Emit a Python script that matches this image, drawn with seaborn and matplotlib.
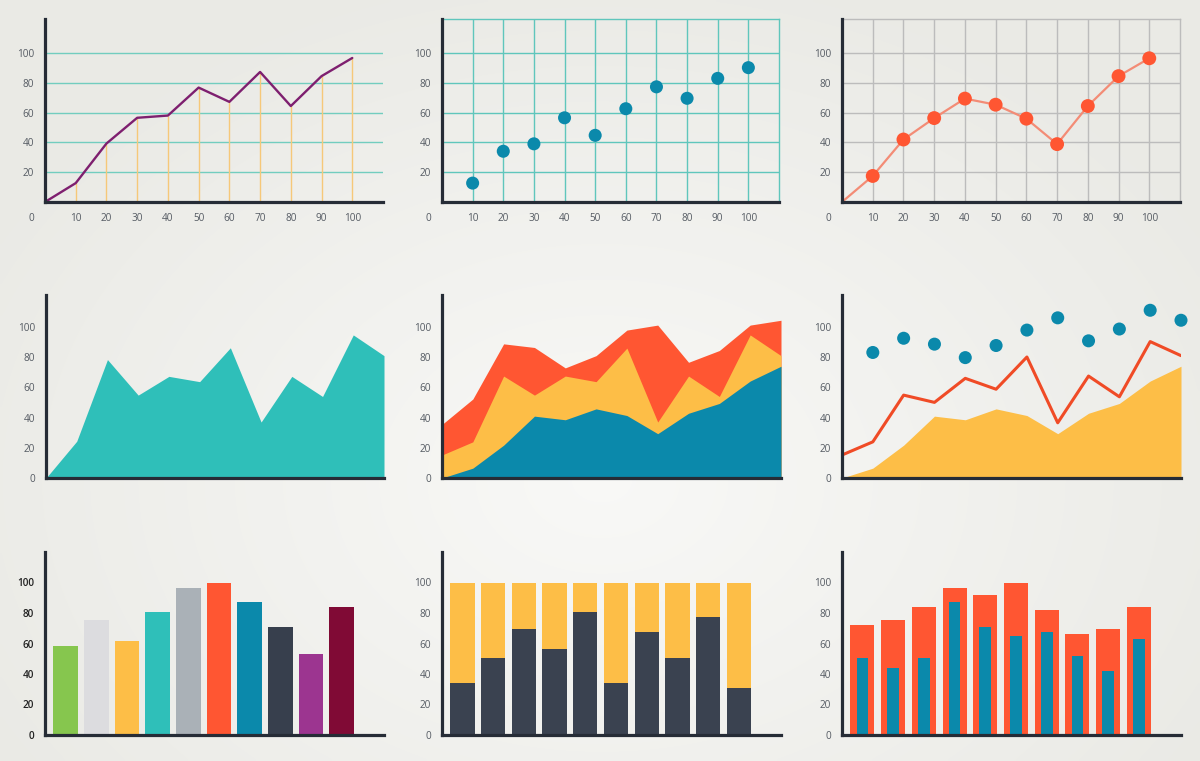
import numpy as np
import pandas as pd
import matplotlib
matplotlib.use("Agg")
import matplotlib.pyplot as plt
import matplotlib.transforms as mtransforms
import seaborn as sns

# ---------------- data ----------------
x_ticks = [10, 20, 30, 40, 50, 60, 70, 80, 90, 100]

line1_x = [0, 10, 20, 30, 40, 50, 60, 70, 80, 90, 100]
line1_y = [0, 12.7, 39.3, 56.6, 58.1, 76.9, 67.3, 87.4, 64.5, 84.6, 96.8]

scatter_x = [10, 20, 30, 40, 50, 60, 70, 80, 90, 100]
scatter_y = [12.7, 34.1, 39.1, 56.6, 44.8, 62.7, 77.4, 69.7, 83.1, 90.3]

dotline_x = [0, 10, 20, 30, 40, 50, 60, 70, 80, 90, 100]
dotline_y = [0, 17.5, 42.0, 56.4, 69.5, 65.4, 56.0, 38.9, 64.5, 84.6, 96.6]

area_x = [0, 10, 20, 30, 40, 50, 60, 70, 80, 90, 100, 110]
area_y = [0, 24.3, 78.3, 54.8, 67.2, 63.7, 86.1, 37.0, 67.2, 53.9, 94.6, 80.9]

stack_blue = [0, 6.5, 21.7, 40.9, 38.5, 45.7, 41.3, 29.3, 42.8, 49.3, 64.1, 73.9]
stack_yellow_top = [15.2, 23.9, 67.4, 54.8, 67.4, 63.7, 85.9, 37.0, 67.4, 53.9, 94.6, 80.9]
stack_orange_top = [35.4, 52.2, 88.7, 86.3, 72.8, 80.9, 97.8, 101.1, 76.5, 84.3, 101.1, 104.3]

combo_area = [0, 6.5, 21.7, 40.9, 38.5, 45.7, 41.3, 29.3, 42.8, 49.3, 64.1, 73.9]
combo_line = [15.2, 23.9, 54.8, 50.0, 65.9, 58.7, 80.0, 36.5, 67.4, 53.7, 90.2, 80.9]
combo_dot_x = [10, 20, 30, 40, 50, 60, 70, 80, 90, 100, 110]
combo_dots = [83.0, 92.4, 88.5, 79.6, 87.6, 97.8, 105.9, 90.7, 98.5, 110.9, 104.3]

bar_cats = ["A", "B", "C", "D", "E", "F", "G", "H", "I", "J"]
bar_values = [58.3, 75.7, 61.5, 80.7, 96.5, 100, 87.2, 70.9, 53.3, 83.9]

share_total = [100, 100, 100, 100, 100, 100, 100, 100, 100, 100]
share_dark = [33.9, 50.2, 69.3, 56.5, 80.7, 33.9, 67.8, 50.2, 77.4, 30.7]

outer_values = [72.4, 75.7, 83.7, 96.5, 91.7, 100, 82.2, 66.1, 69.3, 83.7]
inner_values = [50.4, 43.7, 50.4, 87.2, 70.9, 64.8, 67.8, 52.0, 42.0, 63.0]

y_ticks_top = [20, 40, 60, 80, 100]
y_ticks_all = [0, 20, 40, 60, 80, 100]

# ---------------- style ----------------
AXIS = "#262c36"
TICK = "#555b63"
PURPLE = "#7e1f6f"
TEAL_GRID = "#72cdbf"
YELLOW_LINE = "#f6c879"
BLUE = "#0b89ab"
ORANGE = "#ff5632"
SALMON = "#f38c76"
GRAY_GRID = "#bcbcbc"
TEAL = "#2fbfb9"
YELLOW = "#fdbe47"
RED_LINE = "#f04b26"
DARK = "#3a4250"
bar_palette = ["#86c64e", "#dcdcdf", "#fdbe47", "#2fbfb9", "#aab1b7",
               "#ff5632", "#0b89ab", "#373f4d", "#9c3590", "#800a35"]
FS = 7.2

sns.set_style("white")
plt.rcParams["font.family"] = ["Open Sans", "DejaVu Sans"]

W, H = 1200, 761
fig = plt.figure(figsize=(W / 100, H / 100), dpi=100)

# background radial gradient
bg = fig.add_axes([0, 0, 1, 1], zorder=-10)
yy, xx = np.mgrid[0:H:4, 0:W:4]
r = np.sqrt(((xx - 600) / 700.0) ** 2 + ((yy - 480) / 520.0) ** 2)
r = np.clip(r, 0, 1)
c_center = np.array([0.975, 0.975, 0.968])
c_edge = np.array([0.918, 0.918, 0.900])
img = c_center[None, None, :] * (1 - r[..., None]) + c_edge[None, None, :] * r[..., None]
bg.imshow(img, extent=[0, W, H, 0], aspect="auto", interpolation="bilinear")
bg.set_axis_off()


def make_ax(L, R, B, T):
    ax = fig.add_axes([L / W, 1 - B / H, (R - L) / W, (B - T) / H])
    ax.set_facecolor("none")
    for s in ["top", "right"]:
        ax.spines[s].set_visible(False)
    for s in ["left", "bottom"]:
        ax.spines[s].set_color(AXIS)
        ax.spines[s].set_linewidth(2.3)
        ax.spines[s].set_zorder(6)
    ax.tick_params(length=0, pad=8, labelsize=FS, labelcolor=TICK)
    ax.set_xlabel("")
    ax.set_ylabel("")
    return ax


def origin_zero(ax):
    tr = mtransforms.offset_copy(ax.transData, fig=fig, y=-8, units="points")
    ax.text(-4.3, 0, "0", ha="center", va="top", fontsize=FS, color=TICK, transform=tr)


# ---------------- Row 1 ----------------
# Panel 1: line with drop lines
ax1 = make_ax(45, 383, 202, 19)
for v in y_ticks_top:
    ax1.axhline(v, color=TEAL_GRID, lw=1.0, zorder=1)
ax1.vlines(line1_x[1:], 0, line1_y[1:], color=YELLOW_LINE, lw=1.0, zorder=2)
sns.lineplot(x=line1_x, y=line1_y, ax=ax1, color=PURPLE, lw=1.7, zorder=4)
ax1.set_xlim(0, 110)
ax1.set_ylim(0, 123)
ax1.set_xticks(x_ticks)
ax1.set_yticks(y_ticks_top)
origin_zero(ax1)

# Panel 2: scatter on grid
ax2 = make_ax(442, 779, 202, 19)
sns.scatterplot(x=scatter_x, y=scatter_y, ax=ax2, color=BLUE, s=88,
                edgecolor="none", zorder=4)
ax2.set_xlim(0, 110)
ax2.set_ylim(0, 123)
ax2.set_xticks(x_ticks)
ax2.set_yticks(y_ticks_top)
ax2.set_axisbelow(True)
ax2.grid(True, color="#5fc6bc", lw=1.0)
for s in ["top", "right"]:
    ax2.spines[s].set_visible(True)
    ax2.spines[s].set_color("#5fc6bc")
    ax2.spines[s].set_linewidth(1.0)
origin_zero(ax2)

# Panel 3: line with markers on gray grid
ax3 = make_ax(842, 1180, 202, 19)
sns.lineplot(x=dotline_x, y=dotline_y, ax=ax3, color=SALMON, lw=1.6, zorder=3)
sns.scatterplot(x=dotline_x[1:], y=dotline_y[1:], ax=ax3, color=ORANGE, s=100,
                edgecolor="none", zorder=4)
ax3.set_xlim(0, 110)
ax3.set_ylim(0, 123)
ax3.set_xticks(x_ticks)
ax3.set_yticks(y_ticks_top)
ax3.set_axisbelow(True)
ax3.grid(True, color=GRAY_GRID, lw=1.0)
for s in ["top", "right"]:
    ax3.spines[s].set_visible(True)
    ax3.spines[s].set_color(GRAY_GRID)
    ax3.spines[s].set_linewidth(1.0)
origin_zero(ax3)

# ---------------- Row 2 ----------------
# Panel 4: area
ax4 = make_ax(46, 384, 478, 295)
ax4.fill_between(area_x, 0, area_y, color=TEAL, lw=0, zorder=2)
ax4.set_xlim(0, 110)
ax4.set_ylim(0, 121)
ax4.set_xticks([])
ax4.set_yticks(y_ticks_all)

# Panel 5: stacked area
ax5 = make_ax(442, 781, 478, 295)
ax5.fill_between(area_x, 0, stack_orange_top, color=ORANGE, lw=0, zorder=1)
ax5.fill_between(area_x, 0, stack_yellow_top, color=YELLOW, lw=0, zorder=2)
ax5.fill_between(area_x, 0, stack_blue, color=BLUE, lw=0, zorder=3)
ax5.set_xlim(0, 110)
ax5.set_ylim(0, 121)
ax5.set_xticks([])
ax5.set_yticks(y_ticks_all)

# Panel 6: combo (area + line + dots)
ax6 = make_ax(842, 1181, 478, 295)
ax6.fill_between(area_x, 0, combo_area, color=YELLOW, lw=0, zorder=1)
sns.lineplot(x=area_x, y=combo_line, ax=ax6, color=RED_LINE, lw=2.2, zorder=3)
sns.scatterplot(x=combo_dot_x, y=combo_dots, ax=ax6, color=BLUE, s=88,
                edgecolor="none", zorder=4, clip_on=False)
ax6.set_xlim(0, 110)
ax6.set_ylim(0, 121)
ax6.set_xticks([])
ax6.set_yticks(y_ticks_all)

# ---------------- Row 3 ----------------
# Panel 7: coloured bars
ax7 = make_ax(45, 384, 735, 552)
df7 = pd.DataFrame({"cat": bar_cats, "val": bar_values})
sns.barplot(data=df7, x="cat", y="val", hue="cat", palette=bar_palette,
            legend=False, width=0.8, saturation=1, ax=ax7, zorder=2,
            linewidth=0, edgecolor="none")
ax7.set_xlim(-0.674, 10.38)
ax7.set_ylim(0, 120)
ax7.set_xticks([])
ax7.set_yticks(y_ticks_all)
ax7.set_xlabel("")
ax7.set_ylabel("")
ax7.tick_params(labelcolor="#222222")
for lab in ax7.get_yticklabels():
    lab.set_fontweight("semibold")

# Panel 8: 100% stacked bars
ax8 = make_ax(442, 781, 735, 552)
df8 = pd.DataFrame({"cat": bar_cats, "total": share_total, "dark": share_dark})
sns.barplot(data=df8, x="cat", y="total", color=YELLOW, width=0.79,
            saturation=1, ax=ax8, zorder=2, linewidth=0, edgecolor="none")
sns.barplot(data=df8, x="cat", y="dark", color=DARK, width=0.79,
            saturation=1, ax=ax8, zorder=3, linewidth=0, edgecolor="none")
ax8.set_xlim(-0.663, 10.37)
ax8.set_ylim(0, 120)
ax8.set_xticks([])
ax8.set_yticks(y_ticks_all)
ax8.set_xlabel("")
ax8.set_ylabel("")

# Panel 9: overlapping bars
ax9 = make_ax(842, 1181, 735, 552)
df9 = pd.DataFrame({"cat": bar_cats, "outer": outer_values, "inner": inner_values})
sns.barplot(data=df9, x="cat", y="outer", color=ORANGE, width=0.78,
            saturation=1, ax=ax9, zorder=2, linewidth=0, edgecolor="none")
sns.barplot(data=df9, x="cat", y="inner", color=BLUE, width=0.38,
            saturation=1, ax=ax9, zorder=3, linewidth=0, edgecolor="none")
ax9.set_xlim(-0.663, 10.37)
ax9.set_ylim(0, 120)
ax9.set_xticks([])
ax9.set_yticks(y_ticks_all)
ax9.set_xlabel("")
ax9.set_ylabel("")

fig.savefig("out.png", dpi=100)
